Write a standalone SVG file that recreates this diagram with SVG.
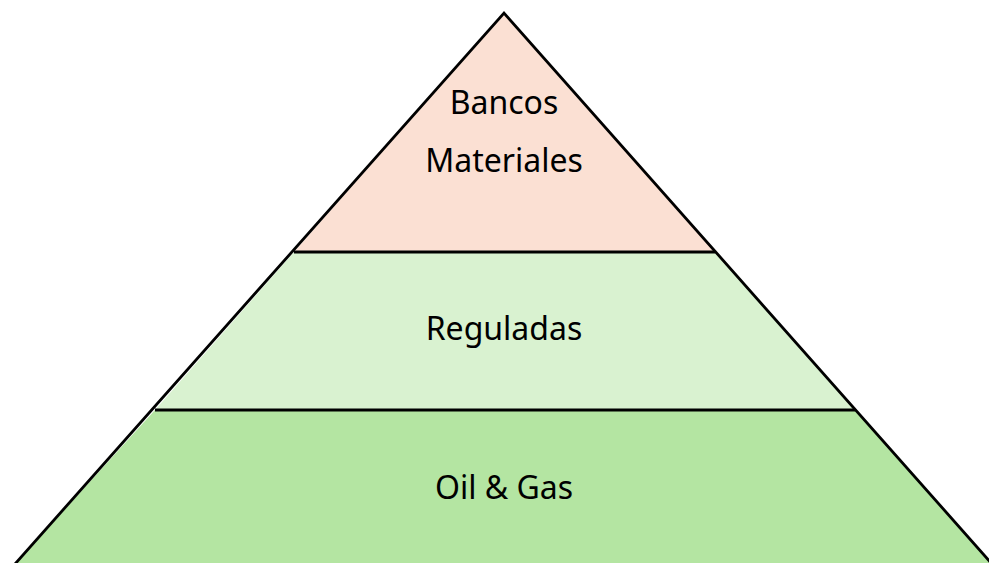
<svg xmlns="http://www.w3.org/2000/svg" width="989" height="563" viewBox="0 0 989 563">
<style>
.edge{stroke:#000;stroke-width:2.8;stroke-linejoin:miter}
.lbl{font-family:"Noto Sans","Open Sans","Liberation Sans",sans-serif;font-size:32px;fill:#000;text-anchor:middle}
</style>
<rect width="989" height="563" fill="#fff"/>
<g id="tier-top">
<polygon points="504,13 294,252 715,252" fill="#FBE0D3"/>
<text class="lbl" x="504" y="114">Bancos</text>
<text class="lbl" x="504" y="172">Materiales</text>
</g>
<g id="tier-middle">
<polygon points="294,252 715,252 855,410 155,410" fill="#D9F2D0"/>
<text class="lbl" x="504" y="340">Reguladas</text>
</g>
<g id="tier-bottom">
<polygon points="155,410 855,410 1000,573 7,573" fill="#B4E5A2"/>
<text class="lbl" x="504" y="499">Oil &amp; Gas</text>
</g>
<g id="connectors" fill="none" class="edge">
<polyline points="7,573 504,13 1000,573"/>
<line x1="294" y1="252" x2="715" y2="252"/>
<line x1="155" y1="410" x2="855" y2="410"/>
</g>
</svg>
